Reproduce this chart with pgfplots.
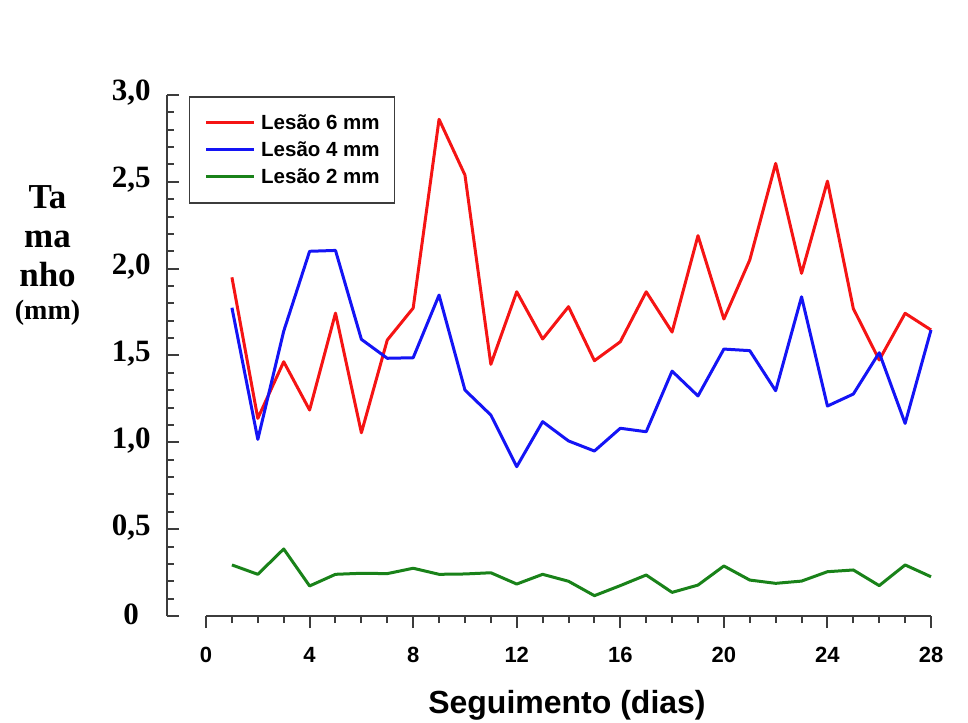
\documentclass[border=0pt]{standalone}
\usepackage{pgfplots}
\usepackage{pgfplotstable}
\pgfplotsset{compat=1.18}
\usepackage{fontspec}
\setmainfont{Liberation Serif}
\newfontfamily\arial{Liberation Sans}
\definecolor{axgray}{RGB}{60,60,60}
\definecolor{myred}{RGB}{245,20,20}
\definecolor{myblue}{RGB}{20,20,245}
\definecolor{mygreen}{RGB}{25,130,25}

\pgfplotstableread{
x y6 y4 y2
1 1.950 1.775 0.294
2 1.138 1.017 0.240
3 1.464 1.640 0.386
4 1.186 2.100 0.173
5 1.744 2.105 0.240
6 1.055 1.593 0.246
7 1.589 1.484 0.244
8 1.773 1.487 0.275
9 2.860 1.848 0.240
10 2.539 1.301 0.242
11 1.449 1.157 0.249
12 1.867 0.860 0.184
13 1.595 1.119 0.240
14 1.781 1.008 0.200
15 1.470 0.950 0.117
16 1.579 1.081 0.175
17 1.867 1.061 0.236
18 1.635 1.410 0.136
19 2.190 1.267 0.178
20 1.710 1.537 0.288
21 2.050 1.528 0.207
22 2.606 1.297 0.188
23 1.973 1.838 0.201
24 2.504 1.209 0.255
25 1.770 1.278 0.265
26 1.474 1.516 0.175
27 1.743 1.109 0.294
28 1.647 1.647 0.226
}\data

\begin{document}
\begin{tikzpicture}
\begin{axis}[
  at={(0pt,0pt)}, anchor=south west,
  scale only axis, width=763.8pt, height=521pt,
  xmin=-1.5, xmax=28, ymin=0, ymax=3,
  clip=false,
  axis x line=bottom, axis y line=left,
  axis line style={-, axgray, line width=2pt},
  x axis line style={draw=none},
  xtick={0,4,8,12,16,20,24,28},
  xticklabels={0,4,8,12,16,20,24,28},
  minor xtick={1,2,3,5,6,7,9,10,11,13,14,15,17,18,19,21,22,23,25,26,27},
  ytick={0,0.5,1,1.5,2,2.5,3},
  yticklabels={0,{0,5},{1,0},{1,5},{2,0},{2,5},{3,0}},
  minor ytick={0.1,0.2,0.3,0.4,0.6,0.7,0.8,0.9,1.1,1.2,1.3,1.4,1.6,1.7,1.8,1.9,2.1,2.2,2.3,2.4,2.6,2.7,2.8,2.9},
  xtick align=outside, ytick align=inside,
  major tick length=12pt, minor tick length=7pt,
  tick style={axgray, line width=2pt},
  yticklabel style={font=\fontsize{31}{31}\selectfont\bfseries, anchor=center, xshift=-36pt, yshift=2pt},
  xticklabel style={font=\arial\fontsize{22}{22}\selectfont\bfseries, anchor=center, yshift=-26.5pt},
  xlabel={Seguimento (dias)},
  xlabel style={font=\arial\fontsize{32}{32}\selectfont\bfseries, at={(axis description cs:0.5234,0)}, anchor=center, yshift=-89pt},
  ylabel={Ta\\ma\\nho\\[-6pt]{\fontsize{28}{28}\selectfont(mm)}},
  ylabel style={rotate=-90, at={(axis description cs:-0.1567,0.691)}, anchor=center, align=center, font=\fontsize{35}{39}\selectfont\bfseries},
  legend style={at={(axis description cs:0.0285,0.998)}, anchor=north west, draw=axgray, line width=1.5pt, fill=white,
    inner xsep=15pt, inner ysep=13pt, row sep=1pt,
    font=\arial\fontsize{20.5}{20.5}\selectfont\bfseries,
    nodes={inner sep=0pt, text height=20pt, text depth=6pt}},
  legend cell align=left,
  legend image code/.code={\draw[#1, line width=3pt] (0pt,0.5pt) -- (48pt,0.5pt); \path[draw=none, fill=none] (0pt,0.5pt) -- (55pt,0.5pt);},
  no markers,
  every axis plot/.append style={line width=3pt, line join=round},
]
\addplot[myred] table[x=x, y=y6]{\data};
\addlegendentry{Lesão 6 mm}
\addplot[myblue] table[x=x, y=y4]{\data};
\addlegendentry{Lesão 4 mm}
\addplot[mygreen] table[x=x, y=y2]{\data};
\addlegendentry{Lesão 2 mm}
\draw[axgray, line width=2pt] (axis cs:0,0) -- (axis cs:28,0);
\end{axis}
\pgfresetboundingbox
\path (-167.2pt,-106pt) rectangle (800.8pt,616pt);
\end{tikzpicture}
\end{document}
